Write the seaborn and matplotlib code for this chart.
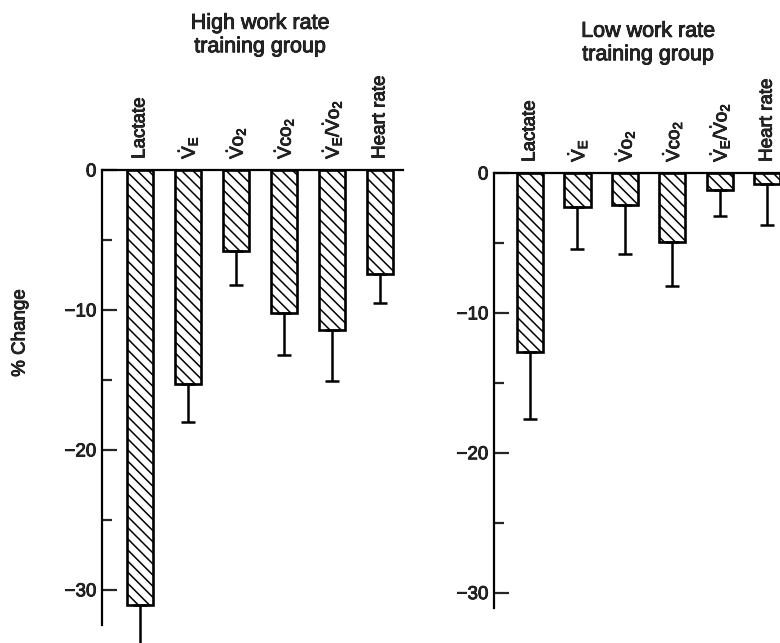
import matplotlib
matplotlib.use('Agg')
import matplotlib.pyplot as plt
import matplotlib.patheffects as PathEffects
import seaborn as sns
import pandas as pd

#-----------------------------------------------------------------------------------------------------------------------
"""Data read off the figure"""
variables = ['Lactate', 'VE', 'VO2', 'VCO2', 'VE/VO2', 'Heart rate']
var_labels = ['Lactate',
              r'$\dot{\rm V}_{\rm E}$',
              r'$\dot{\rm V}{\rm o}_2$',
              r'$\dot{\rm V}{\rm co}_2$',
              r'$\dot{\rm V}_{\rm E}/\dot{\rm V}{\rm o}_2$',
              'Heart rate']

high_change = [-31.1, -15.3, -5.8, -10.2, -11.4, -7.4]
high_err = [3.6, 2.7, 2.4, 3.0, 3.7, 2.1]

low_change = [-12.8, -2.4, -2.3, -4.9, -1.2, -0.8]
low_err = [4.8, 3.0, 3.5, 3.2, 1.9, 2.9]

y_major = [0, -10, -20, -30]
y_minor = [-5, -15, -25]
y_major_labels = ['0', '\u221210', '\u221220', '\u221230']

#-----------------------------------------------------------------------------------------------------------------------
"""Style"""
sns.set_style('white')
plt.rcParams['font.family'] = ['Liberation Sans', 'DejaVu Sans']
plt.rcParams['mathtext.fontset'] = 'custom'
plt.rcParams['mathtext.rm'] = 'Liberation Sans'
plt.rcParams['mathtext.it'] = 'Liberation Sans:italic'
plt.rcParams['hatch.linewidth'] = 1.1
plt.rcParams['hatch.color'] = 'black'

MyFont = 13.5
# scanned print looks a bit heavier than the plain font
bold_fx = [PathEffects.withStroke(linewidth=0.6, foreground='black')]


def draw_panel(ax, values, errs, ylo, spine_lo, xlim):
    df = pd.DataFrame({'variable': variables, 'change': values})
    sns.barplot(data=df, x='variable', y='change', ax=ax, color='white', saturation=1,
                edgecolor='black', linewidth=1.9, width=0.55, errorbar=None)
    for p in ax.patches:
        p.set_hatch('\\\\\\')
    # one sided error bars (downwards only)
    ax.errorbar(range(len(values)), values, yerr=[errs, [0] * len(errs)], fmt='none',
                ecolor='black', elinewidth=1.8, capsize=5, capthick=1.8)

    ax.set_ylim(ylo, 0)
    ax.set_xlim(*xlim)
    ax.set_xlabel('')
    ax.set_ylabel('')

    ax.xaxis.tick_top()
    ax.set_xticks(range(len(var_labels)))
    ax.set_xticklabels(var_labels, rotation=90, fontsize=MyFont)
    ax.tick_params(axis='x', length=0, pad=8)

    ax.set_yticks(y_major)
    ax.set_yticklabels(y_major_labels, fontsize=MyFont)
    ax.set_yticks(y_minor, minor=True)
    ax.tick_params(axis='y', which='major', direction='in', length=11, width=1.6, pad=4, left=True)
    ax.tick_params(axis='y', which='minor', direction='in', length=7, width=1.6, left=True)

    for t in ax.get_xticklabels() + ax.get_yticklabels():
        t.set_path_effects(bold_fx)

    ax.spines['right'].set_visible(False)
    ax.spines['bottom'].set_visible(False)
    for s in ['left', 'top']:
        ax.spines[s].set_color('black')
        ax.spines[s].set_linewidth(1.6)
    ax.spines['left'].set_bounds(spine_lo, 0)
    ax.set_facecolor('white')


#-----------------------------------------------------------------------------------------------------------------------
"""Figure"""
fig = plt.figure(figsize=(7.8, 6.43), dpi=100)
fig.patch.set_facecolor('white')

ax1 = fig.add_axes([102 / 780, 0, 301 / 780, 1 - 170 / 643])
ax2 = fig.add_axes([494 / 780, 0, 286 / 780, 1 - 173 / 643])

draw_panel(ax1, high_change, high_err, -33.8, -32.5, (-0.79, 5.48))
draw_panel(ax2, low_change, low_err, -33.6, -31.1, (-0.76, 5.27))

t1 = fig.text(260 / 780, 1 - 35 / 643, 'High work rate\ntraining group', ha='center', va='center',
              fontsize=15.5, linespacing=1.15)
t2 = fig.text(648 / 780, 1 - 43 / 643, 'Low work rate\ntraining group', ha='center', va='center',
              fontsize=15.5, linespacing=1.15)
t3 = fig.text(20 / 780, 1 - 333 / 643, '% Change', rotation=90, ha='center', va='center', fontsize=MyFont)
for t in [t1, t2, t3]:
    t.set_path_effects(bold_fx)

fig.savefig('out.png', dpi=100, facecolor='white')
